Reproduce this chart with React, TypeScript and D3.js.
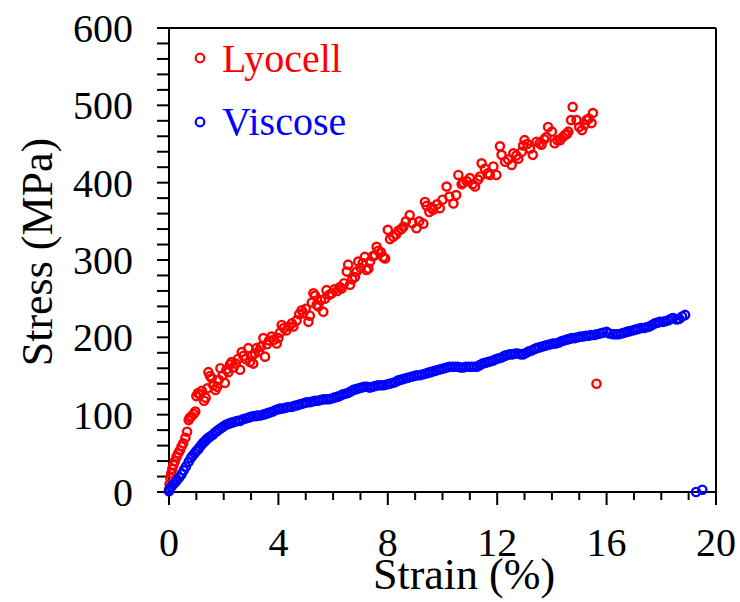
import React from "react";
import * as d3 from "d3";

const lyocellStrain = [
  0.0, 0.02, 0.05, 0.08, 0.12, 0.16, 0.22, 0.28, 0.34, 0.4, 0.46, 0.52, 0.6, 0.66, 0.72, 0.76, 0.82, 0.9, 0.96,
  1.0, 1.06, 1.13, 1.2, 1.28, 1.34, 1.4, 1.44, 1.5, 1.56, 1.62, 1.7, 1.76, 1.82, 1.88, 1.96,
  2.04, 2.1, 2.17, 2.23, 2.29, 2.36, 2.44, 2.52, 2.6, 2.66, 2.72, 2.8, 2.9, 2.96,
  3.02, 3.08, 3.14, 3.2, 3.28, 3.36, 3.45, 3.51, 3.58, 3.66, 3.75, 3.84, 3.94,
  4.0, 4.06, 4.12, 4.2, 4.3, 4.38, 4.49, 4.55, 4.67, 4.76, 4.85, 4.91,
  5.0, 5.1, 5.15, 5.22, 5.28, 5.34, 5.4, 5.46, 5.55, 5.64, 5.7, 5.76, 5.86, 5.95,
  6.05, 6.15, 6.25, 6.31, 6.4, 6.5, 6.55, 6.62, 6.7, 6.8, 6.86, 6.92,
  7.0, 7.08, 7.16, 7.22, 7.29, 7.35, 7.45, 7.53, 7.59, 7.65, 7.75, 7.83, 7.9,
  8.0, 8.08, 8.2, 8.3, 8.4, 8.5, 8.57, 8.66, 8.8, 8.9,
  9.05, 9.15, 9.3, 9.36, 9.42, 9.52, 9.6, 9.66, 9.8, 9.9,
  10.0, 10.15, 10.25, 10.4, 10.5, 10.58, 10.7, 10.76, 10.88,
  11.0, 11.1, 11.19, 11.3, 11.37, 11.43, 11.55, 11.65, 11.73, 11.86, 11.97,
  12.1, 12.16, 12.29, 12.4, 12.53, 12.59, 12.7, 12.77, 12.9, 12.95,
  13.0, 13.1, 13.2, 13.3, 13.44, 13.55, 13.62, 13.72, 13.8, 13.86,
  14.0, 14.1, 14.2, 14.3, 14.4, 14.48, 14.55, 14.6, 14.7, 14.76, 14.9,
  15.0, 15.1, 15.2, 15.27, 15.35, 15.45, 15.5, 15.63,
];
const lyocellStress = [
  3, 10, 18, 24, 30, 35, 40, 46, 50, 54, 59, 63, 70, 78, 93, 96, 98, 101, 104,
  124, 128, 126, 131, 118, 122, 134, 155, 150, 147, 138, 132, 136, 145, 160, 151,
  141, 158, 155, 165, 168, 161, 166, 172, 158, 181, 176, 172, 186, 168,
  176, 166, 179, 186, 182, 188, 199, 175, 191, 196, 201, 197, 192,
  199, 206, 216, 212, 209, 214, 218, 214, 222, 230, 235, 231,
  237, 220, 228, 245, 257, 254, 242, 240, 248, 233, 250, 261, 255, 257,
  262, 260, 265, 263, 270, 285, 294, 268, 275, 278, 285, 298,
  290, 296, 304, 287, 289, 298, 305, 306, 317, 312, 310, 304, 302,
  339, 327, 330, 333, 338, 340, 343, 350, 358, 348,
  341, 350, 347, 375, 370, 362, 368, 365, 372, 367,
  378, 395, 382, 373, 384, 410, 398, 400, 402,
  406, 398, 395, 404, 408, 425, 418, 412, 410, 421, 410,
  447, 436, 427, 430, 423, 438, 435, 431, 440, 448,
  455, 450, 444, 436, 453, 451, 449, 456, 459, 472,
  466, 451, 455, 455, 459, 462, 463, 466, 481, 498, 481,
  472, 468, 475, 481, 483, 477, 490, 140,
];

const viscoseStrain = [
  0.0, 0.03, 0.08, 0.16, 0.24, 0.3, 0.38, 0.46, 0.54, 0.62, 0.72, 0.8, 0.86, 0.94,
  1.0, 1.06, 1.12, 1.19, 1.26, 1.32, 1.37, 1.44, 1.52, 1.6, 1.68, 1.76, 1.84, 1.92,
  2.0, 2.08, 2.16, 2.23, 2.32, 2.42, 2.52, 2.6, 2.7, 2.8, 2.9, 2.96,
  3.06, 3.16, 3.24, 3.33, 3.44, 3.54, 3.62, 3.7, 3.8, 3.9,
  4.0, 4.06, 4.16, 4.26, 4.36, 4.46, 4.56, 4.66, 4.76, 4.86, 4.96,
  5.03, 5.14, 5.24, 5.34, 5.44, 5.54, 5.64, 5.74, 5.84, 5.94,
  6.04, 6.14, 6.24, 6.34, 6.44, 6.54, 6.64, 6.74, 6.84, 6.94,
  7.04, 7.14, 7.24, 7.34, 7.44, 7.54, 7.64, 7.74, 7.84, 7.96,
  8.06, 8.16, 8.26, 8.36, 8.46, 8.56, 8.66, 8.76, 8.86, 8.96,
  9.06, 9.16, 9.26, 9.36, 9.46, 9.56, 9.66, 9.76, 9.86, 9.96,
  10.06, 10.16, 10.26, 10.36, 10.46, 10.56, 10.66, 10.76, 10.86, 10.96,
  11.06, 11.16, 11.26, 11.36, 11.46, 11.56, 11.66, 11.76, 11.86, 11.96,
  12.06, 12.16, 12.26, 12.36, 12.46, 12.56, 12.66, 12.76, 12.86, 12.96,
  13.06, 13.16, 13.26, 13.36, 13.44, 13.54, 13.64, 13.74, 13.84, 13.94,
  14.04, 14.14, 14.24, 14.34, 14.44, 14.54, 14.64, 14.74, 14.84, 14.94,
  15.04, 15.14, 15.24, 15.34, 15.44, 15.54, 15.64, 15.76, 15.86,
  16.0, 16.1, 16.24, 16.34, 16.44, 16.54, 16.64, 16.74, 16.84, 16.97,
  17.06, 17.16, 17.26, 17.36, 17.46, 17.56, 17.66, 17.76, 17.86, 17.95,
  18.06, 18.16, 18.26, 18.36, 18.43, 18.56, 18.66, 18.76, 18.87,
  19.27, 19.5,
];
const viscoseStress = [
  1, 4, 7, 10, 13, 16, 19, 23, 28, 33, 39, 44, 47, 50,
  53, 55, 58, 61, 64, 66, 68, 70, 72, 74, 77, 79, 81, 83,
  85, 87, 88, 89, 90, 91, 92, 92, 94, 95, 96, 97,
  98, 98, 99, 99, 100, 101, 102, 103, 104, 106,
  107, 108, 108, 109, 110, 110, 111, 112, 113, 114, 115,
  116, 116, 117, 118, 118, 119, 120, 120, 120, 121,
  122, 123, 124, 126, 127, 128, 130, 132, 133, 134,
  135, 136, 136, 135, 136, 137, 138, 138, 138, 139,
  140, 141, 142, 144, 145, 146, 147, 148, 149, 150,
  151, 151, 152, 153, 154, 155, 156, 157, 158, 159,
  160, 161, 162, 162, 162, 162, 161, 161, 162, 162,
  162, 162, 162, 164, 166, 167, 168, 169, 170, 172,
  173, 174, 176, 177, 178, 178, 179, 179, 178, 178,
  180, 182, 183, 185, 186, 187, 188, 189, 190, 191,
  192, 192, 193, 195, 196, 197, 198, 199, 199, 200,
  201, 201, 202, 202, 203, 203, 204, 205, 206,
  207, 205, 204, 204, 204, 205, 206, 207, 208, 209,
  210, 211, 212, 212, 213, 214, 216, 218, 219, 220,
  220, 221, 222, 224, 225, 223, 224, 227, 229,
  0, 3,
];

const xMajorTicks = [0, 4, 8, 12, 16, 20];
const xMinorTicks = d3.range(0, 21, 1);
const yMajorTicks = [0, 100, 200, 300, 400, 500, 600];
const yMinorTicks = d3.range(0, 601, 20);

const seriesNames = ["Lyocell", "Viscose"];
const seriesColors = ["#ff0000", "#0000ff"];

const W = 740;
const H = 602;
const left = 169;
const right = 716;
const top = 28;
const bottom = 492;

const FONT = '"Liberation Serif", "Times New Roman", Times, serif';

export default function App() {
  const x = d3.scaleLinear().domain([0, 20]).range([left, right]);
  const y = d3.scaleLinear().domain([0, 600]).range([bottom, top]);
  const ts = (size: number) => ({ fontFamily: FONT, fontSize: size + "px" });

  const lyo = lyocellStrain.map((s, i) => [s, lyocellStress[i]]);
  const vis = viscoseStrain.map((s, i) => [s, viscoseStress[i]]);

  return (
    <svg
      width={W}
      height={H}
      style={{ position: "absolute", left: 0, top: 0, background: "#fff", fontFamily: FONT }}
    >
      <rect x={0} y={0} width={W} height={H} fill="#fff" />
      <line x1={left} x2={right} y1={top} y2={top} stroke="#000" strokeWidth={2} />
      <line x1={right} x2={right} y1={top} y2={bottom} stroke="#000" strokeWidth={2} />
      <line x1={left} x2={left} y1={top} y2={bottom} stroke="#000" strokeWidth={2} />
      <line x1={left} x2={right} y1={bottom} y2={bottom} stroke="#000" strokeWidth={2} />

      {xMinorTicks.map((t) => (
        <line
          key={"xm" + t}
          x1={x(t)}
          x2={x(t)}
          y1={bottom}
          y2={bottom + (xMajorTicks.includes(t) ? 13 : 8)}
          stroke="#000"
          strokeWidth={2}
        />
      ))}
      {xMajorTicks.map((t) => (
        <text key={"xl" + t} x={x(t)} y={556} textAnchor="middle" style={ts(40)} fill="#000">
          {t}
        </text>
      ))}

      {yMinorTicks.map((t) => (
        <line key={"ym" + t} x1={left - 12} x2={left} y1={y(t)} y2={y(t)} stroke="#000" strokeWidth={2} />
      ))}
      {yMajorTicks.map((t) => (
        <text key={"yl" + t} x={133} y={y(t) + 14} textAnchor="end" style={ts(40)} fill="#000">
          {t}
        </text>
      ))}

      <text x={464} y={589} textAnchor="middle" style={ts(44)} fill="#000">
        Strain (%)
      </text>
      <text transform="translate(52,252) rotate(-90)" textAnchor="middle" style={ts(44)} fill="#000">
        Stress (MPa)
      </text>

      <g fill="none" stroke={seriesColors[0]} strokeWidth={2.4}>
        {lyo.map((d, i) => (
          <circle key={"l" + i} cx={x(d[0])} cy={y(d[1])} r={4.1} />
        ))}
      </g>
      <g fill="none" stroke={seriesColors[1]} strokeWidth={2.4}>
        {vis.map((d, i) => (
          <circle key={"v" + i} cx={x(d[0])} cy={y(d[1])} r={4.1} />
        ))}
      </g>

      {seriesNames.map((n, i) => (
        <g key={n}>
          <circle cx={200} cy={58 + i * 64} r={4.3} fill="none" stroke={seriesColors[i]} strokeWidth={2.2} />
          <text x={222} y={72 + i * 63} style={ts(40)} fill={seriesColors[i]}>
            {n}
          </text>
        </g>
      ))}
    </svg>
  );
}
